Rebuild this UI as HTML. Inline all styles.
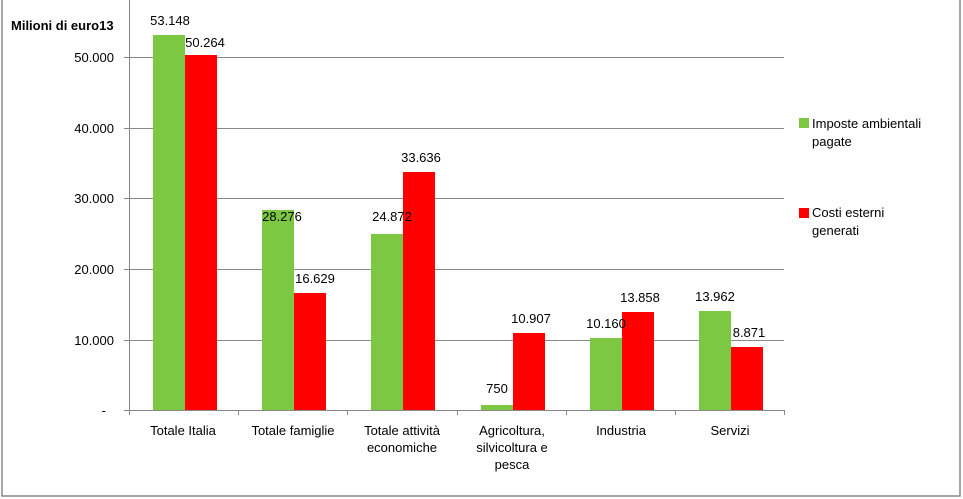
<!DOCTYPE html><html><head><style>body{margin:0;background:#fff}svg{display:block}text{font-family:"Liberation Sans",sans-serif;font-size:13px;fill:#000}</style></head><body>
<svg width="963" height="499" viewBox="0 0 963 499">
<rect x="2" y="-2" width="958" height="498" fill="#fff" stroke="#888" stroke-width="1.5"/>
<g stroke="#888" stroke-width="1">
<line x1="124" y1="57.5" x2="784" y2="57.5"/><line x1="124" y1="128.5" x2="784" y2="128.5"/><line x1="124" y1="198.5" x2="784" y2="198.5"/><line x1="124" y1="269.5" x2="784" y2="269.5"/><line x1="124" y1="340.5" x2="784" y2="340.5"/>
<line x1="129.5" y1="0" x2="129.5" y2="410"/>
<line x1="124" y1="410.5" x2="784" y2="410.5"/>
<line x1="129.5" y1="410" x2="129.5" y2="415"/><line x1="238.5" y1="410" x2="238.5" y2="415"/><line x1="347.5" y1="410" x2="347.5" y2="415"/><line x1="457.5" y1="410" x2="457.5" y2="415"/><line x1="566.5" y1="410" x2="566.5" y2="415"/><line x1="675.5" y1="410" x2="675.5" y2="415"/><line x1="784.5" y1="410" x2="784.5" y2="415"/>
</g>
<g fill="#7DC843">
<rect x="153" y="35" width="32" height="375"/><rect x="262" y="210" width="32" height="200"/><rect x="371" y="234" width="32" height="176"/><rect x="481" y="405" width="32" height="5"/><rect x="590" y="338" width="32" height="72"/><rect x="699" y="311" width="32" height="99"/>
<rect x="799" y="118" width="10" height="10"/></g>
<g fill="#FF0000">
<rect x="185" y="55" width="32" height="355"/><rect x="294" y="293" width="32" height="117"/><rect x="403" y="172" width="32" height="238"/><rect x="513" y="333" width="32" height="77"/><rect x="622" y="312" width="32" height="98"/><rect x="731" y="347" width="32" height="63"/>
<rect x="799" y="208" width="10" height="10"/></g>
<text x="11" y="30" style="font-weight:bold;font-size:13px">Milioni di euro13</text>
<g text-anchor="end"><text x="114" y="62">50.000</text><text x="114" y="133">40.000</text><text x="114" y="203">30.000</text><text x="114" y="274">20.000</text><text x="114" y="345">10.000</text><text x="106" y="415">-</text></g>
<g text-anchor="middle">
<text x="170" y="25">53.148</text><text x="205" y="47">50.264</text>
<text x="282" y="221">28.276</text><text x="315" y="283">16.629</text>
<text x="392" y="221">24.872</text><text x="421" y="162">33.636</text>
<text x="497" y="393">750</text><text x="531" y="323">10.907</text>
<text x="606" y="328">10.160</text><text x="640" y="302">13.858</text>
<text x="715" y="301">13.962</text><text x="749" y="337">8.871</text>
<text x="183" y="435">Totale  Italia</text><text x="293" y="435">Totale famiglie</text>
<text x="402" y="435">Totale attività</text><text x="402" y="452">economiche</text>
<text x="512" y="435">Agricoltura,</text><text x="512" y="452">silvicoltura e</text><text x="512" y="469">pesca</text>
<text x="621" y="435">Industria</text><text x="730" y="435">Servizi</text>
</g>
<text x="812" y="128">Imposte ambientali</text><text x="812" y="146">pagate</text>
<text x="812" y="217">Costi esterni</text><text x="812" y="235">generati</text>
</svg></body></html>
